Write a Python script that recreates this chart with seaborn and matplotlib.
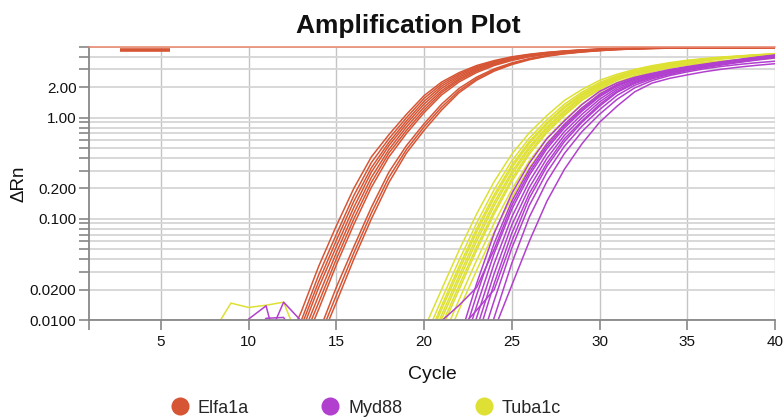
import numpy as np
import pandas as pd
import matplotlib
matplotlib.use('Agg')
import matplotlib.pyplot as plt
import seaborn as sns
from matplotlib.lines import Line2D
from matplotlib.ticker import FixedLocator, FixedFormatter, NullFormatter

# genes in legend order and their colours
genes = ['Elfa1a', 'Myd88', 'Tuba1c']
gene_colors = ['#D65534', '#B240CE', '#DEE034']

# delta Rn per well, one value per cycle starting at the given cycle
elfa1a_first_cycle = 12
elfa1a_wells = [
    [0.0049, 0.012, 0.034, 0.085, 0.2, 0.41, 0.68, 1.08, 1.65, 2.25, 2.79, 3.28, 3.67, 4.0, 4.24, 4.43, 4.57, 4.69, 4.77, 4.83, 4.87, 4.9, 4.91, 4.92, 4.93, 4.94, 4.95, 4.95, 4.96],
    [0.004, 0.0098, 0.028, 0.07, 0.17, 0.36, 0.62, 1.0, 1.55, 2.15, 2.7, 3.2, 3.6, 3.95, 4.2, 4.4, 4.55, 4.67, 4.76, 4.82, 4.86, 4.89, 4.91, 4.92, 4.93, 4.94, 4.95, 4.95, 4.96],
    [0.0035, 0.0086, 0.024, 0.061, 0.149, 0.32, 0.57, 0.93, 1.45, 2.05, 2.61, 3.12, 3.54, 3.89, 4.16, 4.37, 4.53, 4.65, 4.75, 4.81, 4.85, 4.88, 4.9, 4.92, 4.93, 4.94, 4.94, 4.95, 4.95],
    [0.003, 0.0075, 0.021, 0.053, 0.13, 0.29, 0.53, 0.87, 1.36, 1.95, 2.52, 3.04, 3.48, 3.84, 4.12, 4.34, 4.5, 4.63, 4.73, 4.8, 4.85, 4.88, 4.9, 4.91, 4.92, 4.93, 4.94, 4.94, 4.95],
    [0.0025, 0.0065, 0.0175, 0.046, 0.114, 0.257, 0.485, 0.81, 1.27, 1.85, 2.43, 2.96, 3.41, 3.79, 4.09, 4.31, 4.48, 4.61, 4.72, 4.79, 4.84, 4.87, 4.89, 4.91, 4.92, 4.93, 4.94, 4.94, 4.95],
    [0.0022, 0.0057, 0.0149, 0.040, 0.10, 0.229, 0.448, 0.75, 1.19, 1.77, 2.35, 2.89, 3.35, 3.74, 4.05, 4.28, 4.46, 4.6, 4.71, 4.78, 4.83, 4.87, 4.89, 4.9, 4.92, 4.93, 4.93, 4.94, 4.95],
    [0.002, 0.0049, 0.0128, 0.035, 0.088, 0.205, 0.41, 0.70, 1.12, 1.68, 2.26, 2.8, 3.28, 3.68, 4.0, 4.24, 4.43, 4.57, 4.69, 4.77, 4.82, 4.86, 4.88, 4.9, 4.91, 4.92, 4.93, 4.94, 4.94],
    [0.001, 0.003, 0.0075, 0.021, 0.053, 0.13, 0.29, 0.53, 0.87, 1.36, 1.95, 2.52, 3.04, 3.48, 3.84, 4.12, 4.34, 4.5, 4.63, 4.73, 4.8, 4.85, 4.88, 4.9, 4.91, 4.92, 4.93, 4.94, 4.94],
    [0.001, 0.0025, 0.0065, 0.0175, 0.046, 0.114, 0.257, 0.485, 0.81, 1.27, 1.85, 2.43, 2.96, 3.41, 3.79, 4.09, 4.31, 4.48, 4.61, 4.72, 4.79, 4.84, 4.87, 4.89, 4.91, 4.92, 4.93, 4.94, 4.94],
    [0.001, 0.0022, 0.0057, 0.0149, 0.040, 0.10, 0.229, 0.448, 0.75, 1.19, 1.77, 2.35, 2.89, 3.35, 3.74, 4.05, 4.28, 4.46, 4.6, 4.71, 4.78, 4.83, 4.87, 4.89, 4.9, 4.92, 4.93, 4.93, 4.94],
]

tuba1c_first_cycle = 19
tuba1c_wells = [
    [0.003, 0.0081, 0.020, 0.049, 0.112, 0.234, 0.436, 0.71, 1.05, 1.48, 1.9, 2.34, 2.69, 3.0, 3.27, 3.5, 3.7, 3.85, 3.98, 4.09, 4.2, 4.3],
    [0.0025, 0.0063, 0.0159, 0.039, 0.091, 0.195, 0.374, 0.627, 0.95, 1.36, 1.79, 2.23, 2.6, 2.93, 3.21, 3.45, 3.65, 3.81, 3.95, 4.06, 4.17, 4.27],
    [0.002, 0.0054, 0.0138, 0.034, 0.080, 0.174, 0.34, 0.583, 0.89, 1.29, 1.72, 2.16, 2.55, 2.88, 3.17, 3.41, 3.62, 3.79, 3.93, 4.05, 4.16, 4.26],
    [0.002, 0.005, 0.0127, 0.031, 0.074, 0.162, 0.32, 0.556, 0.86, 1.245, 1.68, 2.11, 2.51, 2.85, 3.14, 3.39, 3.6, 3.78, 3.92, 4.04, 4.15, 4.25],
    [0.0017, 0.0043, 0.0112, 0.0275, 0.066, 0.146, 0.292, 0.518, 0.81, 1.18, 1.62, 2.05, 2.46, 2.8, 3.1, 3.35, 3.57, 3.75, 3.9, 4.02, 4.13, 4.23],
    [0.0015, 0.0039, 0.0102, 0.025, 0.060, 0.135, 0.274, 0.493, 0.78, 1.14, 1.58, 2.01, 2.43, 2.77, 3.08, 3.33, 3.56, 3.74, 3.89, 4.01, 4.12, 4.22],
    [0.0012, 0.0033, 0.0089, 0.022, 0.053, 0.12, 0.25, 0.46, 0.74, 1.09, 1.52, 1.94, 2.38, 2.72, 2.98, 3.2, 3.38, 3.53, 3.65, 3.75, 3.84, 3.92],
    [0.001, 0.003, 0.0081, 0.020, 0.049, 0.112, 0.234, 0.436, 0.71, 1.05, 1.48, 1.9, 2.34, 2.69, 3.0, 3.27, 3.5, 3.7, 3.85, 3.98, 4.09, 4.2],
    [0.001, 0.0025, 0.0063, 0.0159, 0.039, 0.091, 0.195, 0.374, 0.627, 0.95, 1.36, 1.79, 2.23, 2.6, 2.93, 3.21, 3.45, 3.65, 3.81, 3.95, 4.06, 4.17],
    [0.001, 0.002, 0.005, 0.0127, 0.031, 0.074, 0.162, 0.32, 0.556, 0.86, 1.245, 1.68, 2.11, 2.51, 2.85, 3.1, 3.3, 3.45, 3.58, 3.68, 3.78, 3.87],
]

myd88_first_cycle = 21
myd88_wells = [
    [0.002, 0.0063, 0.023, 0.072, 0.178, 0.355, 0.62, 0.93, 1.35, 1.82, 2.21, 2.51, 2.75, 2.99, 3.2, 3.39, 3.59, 3.78, 3.98, 4.17],
    [0.0018, 0.005, 0.0177, 0.0575, 0.149, 0.309, 0.552, 0.86, 1.25, 1.71, 2.13, 2.45, 2.7, 2.94, 3.15, 3.35, 3.55, 3.74, 3.94, 4.13],
    [0.0015, 0.004, 0.0137, 0.0457, 0.124, 0.269, 0.494, 0.79, 1.16, 1.61, 2.05, 2.39, 2.65, 2.89, 3.11, 3.31, 3.51, 3.7, 3.9, 4.09],
    [0.0012, 0.0032, 0.0106, 0.0363, 0.104, 0.234, 0.443, 0.728, 1.08, 1.52, 1.97, 2.33, 2.61, 2.84, 3.07, 3.27, 3.47, 3.66, 3.86, 4.06],
    [0.001, 0.0025, 0.0082, 0.0288, 0.0867, 0.204, 0.396, 0.67, 1.0, 1.43, 1.89, 2.27, 2.56, 2.8, 3.03, 3.24, 3.43, 3.63, 3.82, 4.02],
    [0.001, 0.002, 0.0063, 0.023, 0.072, 0.178, 0.355, 0.62, 0.93, 1.35, 1.82, 2.21, 2.51, 2.75, 2.99, 3.2, 3.39, 3.59, 3.78, 3.98],
    [0.001, 0.0015, 0.0045, 0.0156, 0.0513, 0.136, 0.288, 0.522, 0.825, 1.2, 1.66, 2.09, 2.42, 2.68, 2.92, 3.13, 3.33, 3.53, 3.72, 3.9],
    [0.001, 0.0012, 0.0032, 0.0106, 0.0363, 0.104, 0.234, 0.443, 0.728, 1.08, 1.52, 1.97, 2.33, 2.61, 2.84, 3.05, 3.22, 3.37, 3.5, 3.62],
    [0.001, 0.0015, 0.003, 0.008, 0.022, 0.06, 0.149, 0.309, 0.552, 0.9, 1.3, 1.8, 2.2, 2.45, 2.65, 2.85, 3.02, 3.17, 3.3, 3.42],
    [0.0098, 0.014, 0.021, 0.05, 0.136, 0.288, 0.522, 0.825, 1.2, 1.66, 2.09, 2.42, 2.68, 2.92, 3.13, 3.33, 3.53, 3.72, 3.92, 4.11],
    [0.001, 0.008, 0.0125, 0.02, 0.06, 0.16, 0.33, 0.58, 0.9, 1.3, 1.78, 2.18, 2.49, 2.73, 2.97, 3.18, 3.37, 3.57, 3.76, 3.96],
]

# early baseline noise that pokes above 0.01
noise_gene = ['Tuba1c', 'Myd88', 'Myd88', 'Myd88']
noise_cycles = [[7, 8, 9, 10, 11, 12, 13], [9, 10, 11, 12], [10, 11, 12, 13], [11, 12, 13, 14]]
noise_values = [
    [0.003, 0.0077, 0.0147, 0.0133, 0.014, 0.015, 0.0055],
    [0.005, 0.0102, 0.0138, 0.003],
    [0.006, 0.0104, 0.0106, 0.005],
    [0.006, 0.015, 0.0098, 0.004],
]

threshold = 5.0
threshold_handle = 4.64
threshold_handle_cycles = [2.7, 5.5]

y_ticks = [0.01, 0.02, 0.1, 0.2, 1, 2]
y_tick_labels = ['0.0100', '0.0200', '0.100', '0.200', '1.00', '2.00']
x_ticks = [5, 10, 15, 20, 25, 30, 35, 40]

rows = []
for gene, first, wells in [('Elfa1a', elfa1a_first_cycle, elfa1a_wells),
                           ('Tuba1c', tuba1c_first_cycle, tuba1c_wells),
                           ('Myd88', myd88_first_cycle, myd88_wells)]:
    for i, w in enumerate(wells):
        for k, v in enumerate(w):
            rows.append((gene, f'{gene}_{i}', first + k, v))
for j, (g, cyc, vals) in enumerate(zip(noise_gene, noise_cycles, noise_values)):
    for c, v in zip(cyc, vals):
        rows.append((g, f'{g}_noise{j}', c, v))
df = pd.DataFrame(rows, columns=['gene', 'well', 'cycle', 'dRn'])

sns.set_style('white')
plt.rcParams['font.family'] = ['Liberation Sans', 'DejaVu Sans']

fig = plt.figure(figsize=(7.84, 4.19), dpi=100)
ax = fig.add_axes([89 / 784, 1 - 320 / 419, (775 - 89) / 784, (320 - 47) / 419])

palette = dict(zip(genes, gene_colors))
sns.lineplot(data=df, x='cycle', y='dRn', hue='gene', units='well', estimator=None,
             hue_order=['Elfa1a', 'Tuba1c', 'Myd88'], palette=palette,
             linewidth=1.1, legend=False, sort=True, ax=ax)

ax.set_yscale('log')
ax.set_xlim(0.91, 40)
ax.set_ylim(0.01, threshold)

ax.yaxis.set_major_locator(FixedLocator(y_ticks))
ax.yaxis.set_major_formatter(FixedFormatter(y_tick_labels))
minor = [m * 10.0 ** e for e in (-2, -1, 0) for m in range(1, 10) if m * 10.0 ** e <= threshold]
ax.yaxis.set_minor_locator(FixedLocator(minor))
ax.yaxis.set_minor_formatter(NullFormatter())
ax.set_xticks(x_ticks)
ax.set_xticks([0.91], minor=True)

ax.grid(True, axis='y', which='both', color='#d6d6d6', lw=1.3, zorder=0)
ax.grid(True, axis='x', which='major', color='#c4c4c4', lw=1.0, zorder=0)
ax.set_axisbelow(True)

for s in ['top', 'right']:
    ax.spines[s].set_visible(False)
for s in ['left', 'bottom']:
    ax.spines[s].set_color('#888888')
    ax.spines[s].set_linewidth(1.3)

ax.tick_params(axis='both', which='both', length=7, width=1.2, color='#888888',
               labelsize=11, labelcolor='#111111', left=True, bottom=True)
ax.tick_params(axis='y', which='both', pad=2)
ax.tick_params(axis='x', which='both', pad=4)

ax.axhline(threshold, color='#E98B74', lw=1.2, clip_on=False, zorder=5)
ax.plot(threshold_handle_cycles, [threshold_handle] * 2, color='#D65534', lw=2.6,
        solid_capstyle='butt', zorder=6)

ax.set_xlabel('Cycle', fontsize=14, labelpad=12, color='#111111')
ax.set_ylabel('ΔRn', fontsize=13.5, labelpad=2, color='#111111')

fig.text(408 / 784, 1 - 33 / 419, 'Amplification Plot', ha='center', va='baseline',
         fontsize=19, fontweight='bold', color='#111111')

handles = [Line2D([], [], marker='o', ls='none', markersize=13, color=c,
                  markeredgewidth=0) for c in gene_colors]
fig.legend(handles, genes, loc='center', bbox_to_anchor=(366 / 784, 1 - 408 / 419),
           ncol=3, frameon=False, fontsize=13, handlelength=1.0, handletextpad=0.5,
           columnspacing=4.0, borderpad=0, borderaxespad=0)

fig.savefig('out.png', dpi=100)
